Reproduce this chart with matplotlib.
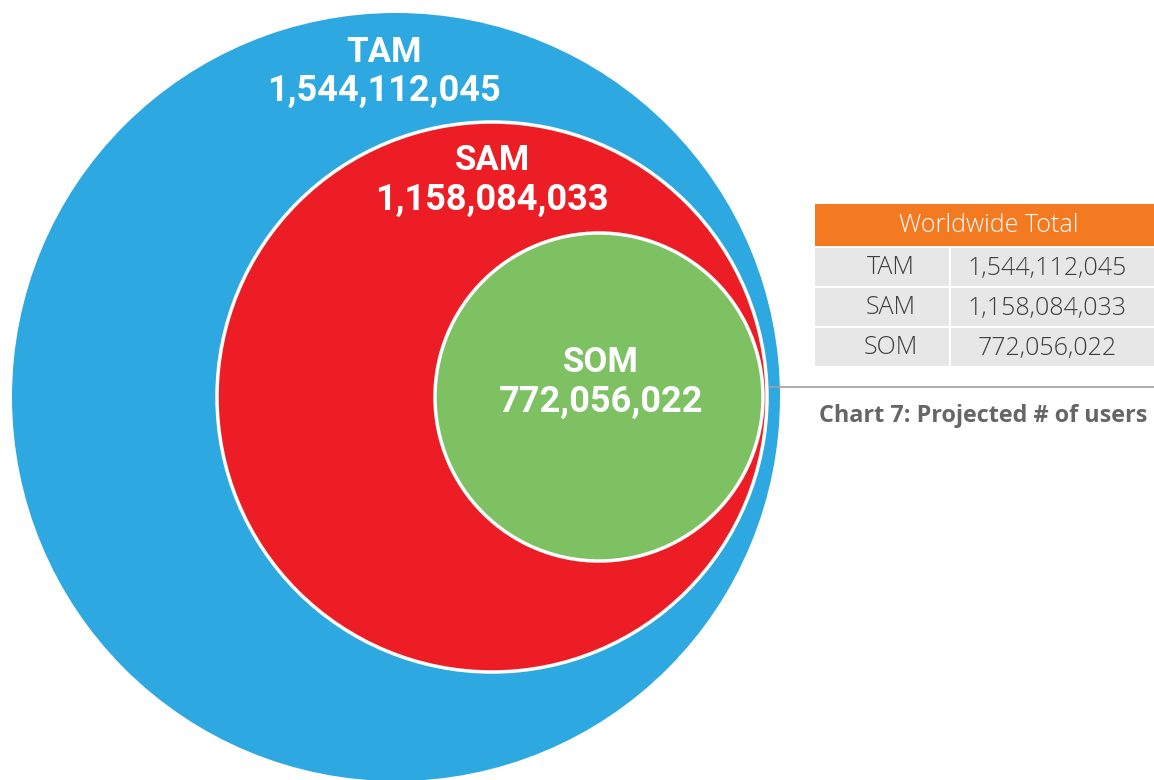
import matplotlib.pyplot as plt
from matplotlib.patches import Circle, Rectangle

# data
segments = ['TAM', 'SAM', 'SOM']
users = [1544112045, 1158084033, 772056022]
table_title = 'Worldwide Total'
caption = 'Chart 7: Projected # of users'

# layout (pixel coords)
circle_colors = ['#2DA8E0', '#EC1D25', '#7DC163']
centers = [(396, 397), (492, 397), (599, 397)]
radii = [384, 275, 164]
label_pos = [(384, 52), (492, 161), (601, 363)]

fig = plt.figure(figsize=(11.54, 7.80), dpi=100)
ax = fig.add_axes([0, 0, 1, 1])
ax.set_xlim(0, 1154)
ax.set_ylim(780, 0)
ax.set_aspect('equal')
ax.axis('off')

for i, name in enumerate(segments):
    edge = 'none' if i == 0 else 'white'
    ax.add_patch(Circle(centers[i], radii[i], facecolor=circle_colors[i],
                        edgecolor=edge, linewidth=2.5, zorder=i + 1))
    x, y = label_pos[i]
    ax.text(x, y, name, color='white', fontsize=25, fontweight='bold',
            family='Roboto', ha='center', va='center', zorder=10)
    ax.text(x, y + 39, f'{users[i]:,}', color='white', fontsize=26,
            fontweight='bold', family='Roboto', ha='center', va='center', zorder=10)

# table on the right
tx0, tx1, tx2 = 815, 951, 1160
ax.add_patch(Rectangle((tx0, 204), tx2 - tx0, 42, facecolor='#F47A22',
                       edgecolor='none'))
ax.text(989, 226, table_title, color='white', fontsize=18, family='Open Sans',
        fontweight='light', ha='center', va='center')
for i, name in enumerate(segments):
    y0 = 248 + i * 40
    ax.add_patch(Rectangle((tx0, y0), tx1 - tx0 - 2, 38, facecolor='#E7E7E7',
                           edgecolor='none'))
    ax.add_patch(Rectangle((tx1, y0), tx2 - tx1, 38, facecolor='#E7E7E7',
                           edgecolor='none'))
    ax.text(891, y0 + 20, name, color='#3E3E3E', fontsize=18, family='Open Sans',
            fontweight='light', ha='center', va='center')
    ax.text(1047, y0 + 20, f'{users[i]:,}', color='#3E3E3E', fontsize=18,
            family='Open Sans', fontweight='light', ha='center', va='center')

ax.plot([770, 1154], [387, 387], color='#A0A0A0', linewidth=1.2)
# slightly smaller than the original so the caption stays inside the canvas
ax.text(819, 416, caption, color='#666666', fontsize=16.8, fontweight='bold',
        family='Open Sans', ha='left', va='center')

fig.savefig('out.png', dpi=100)
